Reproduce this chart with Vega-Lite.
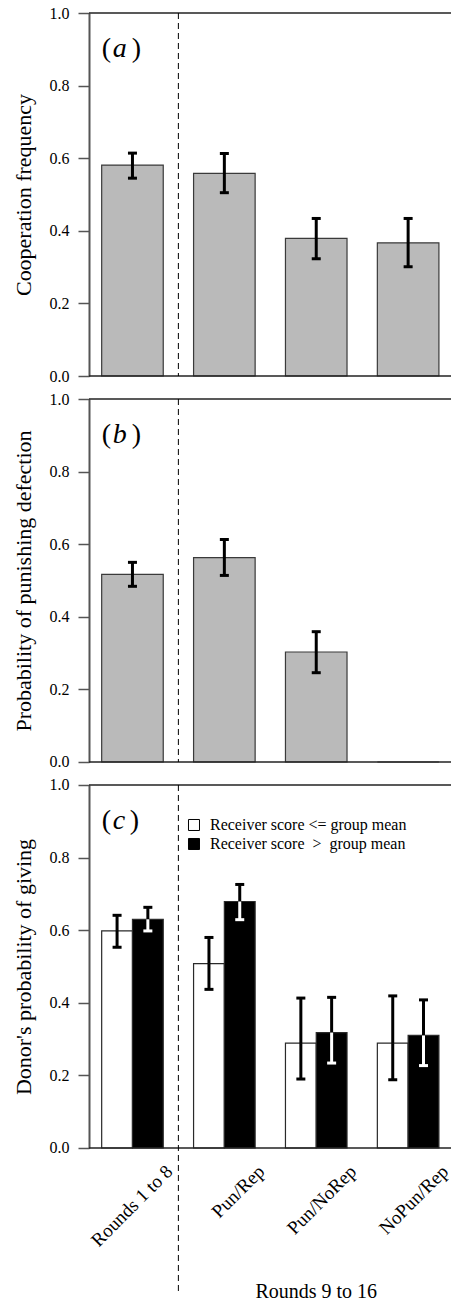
{
  "$schema": "https://vega.github.io/schema/vega-lite/v6.json",
  "padding": {"left": 13, "top": 5, "right": 0, "bottom": 0},
  "background": "white",
  "spacing": 23,
  "bounds": "flush",
  "config": {
    "font": "Liberation Serif",
    "view": {"stroke": null},
    "axis": {"labelFont": "Liberation Serif", "titleFont": "Liberation Serif", "labelColor": "black", "titleColor": "black", "grid": false},
    "axisY": {"labelFontSize": 16, "titleFontSize": 22, "titleFontWeight": "normal", "ticks": true, "tickSize": 11, "tickColor": "#555", "tickWidth": 1.5, "domainColor": "#555", "domainWidth": 2, "labelPadding": 9, "titlePadding": 13, "labelOverlap": false, "labelBound": false},
    "legend": {"labelFont": "Liberation Serif"}
  },
  "datasets": {
    "a": [
      {"cat": "Rounds 1 to 8", "value": 0.581, "lo": 0.545, "hi": 0.614},
      {"cat": "Pun/Rep", "value": 0.558, "lo": 0.505, "hi": 0.613},
      {"cat": "Pun/NoRep", "value": 0.379, "lo": 0.323, "hi": 0.434},
      {"cat": "NoPun/Rep", "value": 0.367, "lo": 0.301, "hi": 0.434}
    ],
    "b": [
      {"cat": "Rounds 1 to 8", "value": 0.517, "lo": 0.484, "hi": 0.55},
      {"cat": "Pun/Rep", "value": 0.563, "lo": 0.514, "hi": 0.613},
      {"cat": "Pun/NoRep", "value": 0.303, "lo": 0.246, "hi": 0.359},
      {"cat": "NoPun/Rep", "value": 0.0, "lo": null, "hi": null}
    ],
    "c": [
      {"cat": "Rounds 1 to 8", "grp": "Receiver score <= group mean", "value": 0.598, "lo": 0.553, "hi": 0.641},
      {"cat": "Rounds 1 to 8", "grp": "Receiver score\u00a0 >\u00a0 group mean", "value": 0.63, "lo": 0.598, "hi": 0.663},
      {"cat": "Pun/Rep", "grp": "Receiver score <= group mean", "value": 0.508, "lo": 0.437, "hi": 0.58},
      {"cat": "Pun/Rep", "grp": "Receiver score\u00a0 >\u00a0 group mean", "value": 0.679, "lo": 0.629, "hi": 0.726},
      {"cat": "Pun/NoRep", "grp": "Receiver score <= group mean", "value": 0.289, "lo": 0.19, "hi": 0.413},
      {"cat": "Pun/NoRep", "grp": "Receiver score\u00a0 >\u00a0 group mean", "value": 0.318, "lo": 0.234, "hi": 0.415},
      {"cat": "NoPun/Rep", "grp": "Receiver score <= group mean", "value": 0.289, "lo": 0.188, "hi": 0.419},
      {"cat": "NoPun/Rep", "grp": "Receiver score\u00a0 >\u00a0 group mean", "value": 0.31, "lo": 0.227, "hi": 0.408}
    ],
    "lines": [{"v": 0}, {"v": 1}],
    "lab": [{"cat": "Rounds 1 to 8", "y": 0.9}]
  },
  "vconcat": [
    {
      "width": 362.6, "height": 363,
      "layer": [
        {"data": {"name": "a"}, "mark": {"type": "bar", "fill": "#bababa", "stroke": "#3a3a3a", "strokeWidth": 1.2},
         "encoding": {
           "x": {"field": "cat", "type": "nominal", "sort": null, "scale": {"domain": ["Rounds 1 to 8", "Pun/Rep", "Pun/NoRep", "NoPun/Rep"], "paddingInner": 0.33, "paddingOuter": 0.138}, "axis": null},
           "y": {"field": "value", "type": "quantitative", "scale": {"domain": [0, 1], "nice": false}, "axis": {"title": "Cooperation frequency", "format": ".1f", "values": [0, 0.2, 0.4, 0.6, 0.8, 1]}}
         }},
        {"data": {"name": "lines"}, "mark": {"type": "rule", "color": "#222", "strokeWidth": 1.5}, "encoding": {"y": {"field": "v", "type": "quantitative"}}},
        {"data": {"name": "lab"}, "mark": {"type": "rule", "color": "black", "strokeWidth": 1, "strokeDash": [6, 4]},
         "encoding": {"x": {"field": "cat", "type": "nominal", "bandPosition": 1.246}, "y": {"datum": 1}, "y2": {"datum": 0}}},
        {"data": {"name": "a"}, "mark": {"type": "rule", "color": "black", "strokeWidth": 3},
         "encoding": {"x": {"field": "cat", "type": "nominal"}, "y": {"field": "lo", "type": "quantitative"}, "y2": {"field": "hi"}}},
        {"data": {"name": "a"}, "mark": {"type": "tick", "color": "black", "size": 9, "thickness": 3, "opacity": 1},
         "encoding": {"x": {"field": "cat", "type": "nominal"}, "y": {"field": "lo", "type": "quantitative"}}},
        {"data": {"name": "a"}, "mark": {"type": "tick", "color": "black", "size": 9, "thickness": 3, "opacity": 1},
         "encoding": {"x": {"field": "cat", "type": "nominal"}, "y": {"field": "hi", "type": "quantitative"}}},
        {"data": {"name": "lab"}, "mark": {"type": "text", "fontSize": 28, "align": "left", "baseline": "middle", "font": "Liberation Serif"},
         "encoding": {"x": {"field": "cat", "type": "nominal", "bandPosition": 0}, "y": {"field": "y", "type": "quantitative"}, "text": {"value": "("}}},
        {"data": {"name": "lab"}, "mark": {"type": "text", "fontSize": 28, "align": "left", "baseline": "middle", "fontStyle": "italic", "dx": 11, "font": "Liberation Serif"},
         "encoding": {"x": {"field": "cat", "type": "nominal", "bandPosition": 0}, "y": {"field": "y", "type": "quantitative"}, "text": {"value": "a"}}},
        {"data": {"name": "lab"}, "mark": {"type": "text", "fontSize": 28, "align": "left", "baseline": "middle", "dx": 30, "font": "Liberation Serif"},
         "encoding": {"x": {"field": "cat", "type": "nominal", "bandPosition": 0}, "y": {"field": "y", "type": "quantitative"}, "text": {"value": ")"}}}
      ]
    },
    {
      "width": 362.6, "height": 363,
      "layer": [
        {"data": {"name": "b"}, "mark": {"type": "bar", "fill": "#bababa", "stroke": "#3a3a3a", "strokeWidth": 1.2},
         "encoding": {
           "x": {"field": "cat", "type": "nominal", "sort": null, "scale": {"domain": ["Rounds 1 to 8", "Pun/Rep", "Pun/NoRep", "NoPun/Rep"], "paddingInner": 0.33, "paddingOuter": 0.138}, "axis": null},
           "y": {"field": "value", "type": "quantitative", "scale": {"domain": [0, 1], "nice": false}, "axis": {"title": "Probability of punishing defection", "format": ".1f", "values": [0, 0.2, 0.4, 0.6, 0.8, 1]}}
         }},
        {"data": {"name": "lines"}, "mark": {"type": "rule", "color": "#222", "strokeWidth": 1.5}, "encoding": {"y": {"field": "v", "type": "quantitative"}}},
        {"data": {"name": "lab"}, "mark": {"type": "rule", "color": "black", "strokeWidth": 1, "strokeDash": [6, 4]},
         "encoding": {"x": {"field": "cat", "type": "nominal", "bandPosition": 1.246}, "y": {"datum": 1}, "y2": {"datum": 0}}},
        {"data": {"name": "b"}, "mark": {"type": "rule", "color": "black", "strokeWidth": 3},
         "encoding": {"x": {"field": "cat", "type": "nominal"}, "y": {"field": "lo", "type": "quantitative"}, "y2": {"field": "hi"}}},
        {"data": {"name": "b"}, "mark": {"type": "tick", "color": "black", "size": 9, "thickness": 3, "opacity": 1},
         "encoding": {"x": {"field": "cat", "type": "nominal"}, "y": {"field": "lo", "type": "quantitative"}}},
        {"data": {"name": "b"}, "mark": {"type": "tick", "color": "black", "size": 9, "thickness": 3, "opacity": 1},
         "encoding": {"x": {"field": "cat", "type": "nominal"}, "y": {"field": "hi", "type": "quantitative"}}},
        {"data": {"name": "lab"}, "mark": {"type": "text", "fontSize": 28, "align": "left", "baseline": "middle", "font": "Liberation Serif"},
         "encoding": {"x": {"field": "cat", "type": "nominal", "bandPosition": 0}, "y": {"field": "y", "type": "quantitative"}, "text": {"value": "("}}},
        {"data": {"name": "lab"}, "mark": {"type": "text", "fontSize": 28, "align": "left", "baseline": "middle", "fontStyle": "italic", "dx": 11, "font": "Liberation Serif"},
         "encoding": {"x": {"field": "cat", "type": "nominal", "bandPosition": 0}, "y": {"field": "y", "type": "quantitative"}, "text": {"value": "b"}}},
        {"data": {"name": "lab"}, "mark": {"type": "text", "fontSize": 28, "align": "left", "baseline": "middle", "dx": 30, "font": "Liberation Serif"},
         "encoding": {"x": {"field": "cat", "type": "nominal", "bandPosition": 0}, "y": {"field": "y", "type": "quantitative"}, "text": {"value": ")"}}}
      ]
    },
    {
      "width": 362.6, "height": 363,
      "layer": [
        {"data": {"name": "c"}, "mark": {"type": "bar", "stroke": "#2a2a2a", "strokeWidth": 1.2},
         "encoding": {
           "x": {"field": "cat", "type": "nominal", "sort": null, "scale": {"domain": ["Rounds 1 to 8", "Pun/Rep", "Pun/NoRep", "NoPun/Rep"], "paddingInner": 0.33, "paddingOuter": 0.138},
                 "axis": {"title": null, "labelAngle": -45, "labelFontSize": 19, "labelAlign": "right", "labelBaseline": "middle", "labelOffset": 37, "labelPadding": 20, "domain": false, "ticks": false}},
           "xOffset": {"field": "grp", "type": "nominal", "sort": null, "scale": {"domain": ["Receiver score <= group mean", "Receiver score\u00a0 >\u00a0 group mean"]}},
           "y": {"field": "value", "type": "quantitative", "scale": {"domain": [0, 1], "nice": false}, "axis": {"title": "Donor's probability of giving", "format": ".1f", "values": [0, 0.2, 0.4, 0.6, 0.8, 1]}},
           "fill": {"field": "grp", "type": "nominal", "sort": null, "scale": {"domain": ["Receiver score <= group mean", "Receiver score\u00a0 >\u00a0 group mean"], "range": ["white", "black"]},
                    "legend": {"title": null, "orient": "none", "legendX": 97, "legendY": 804, "symbolType": "square", "symbolSize": 121, "symbolStrokeColor": "black", "symbolStrokeWidth": 1, "labelFontSize": 16, "labelFont": "Liberation Serif", "labelColor": "black", "labelOffset": 8, "rowPadding": 3, "padding": 0, "labelLimit": 400}}
         }},
        {"data": {"name": "lines"}, "mark": {"type": "rule", "color": "#222", "strokeWidth": 1.5}, "encoding": {"y": {"field": "v", "type": "quantitative"}}},
        {"data": {"name": "lab"}, "mark": {"type": "rule", "color": "black", "strokeWidth": 1, "strokeDash": [6, 4]},
         "encoding": {"x": {"field": "cat", "type": "nominal", "bandPosition": 1.246}, "y": {"datum": 1}, "y2": {"datum": -0.4}}},
        {"data": {"name": "c"}, "mark": {"type": "rule", "color": "black", "strokeWidth": 3},
         "encoding": {"x": {"field": "cat", "type": "nominal"}, "xOffset": {"field": "grp", "type": "nominal", "sort": null}, "y": {"field": "value", "type": "quantitative"}, "y2": {"field": "hi"}}},
        {"data": {"name": "c"}, "mark": {"type": "rule", "strokeWidth": 3},
         "encoding": {"x": {"field": "cat", "type": "nominal"}, "xOffset": {"field": "grp", "type": "nominal", "sort": null}, "y": {"field": "lo", "type": "quantitative"}, "y2": {"field": "value"},
                      "color": {"condition": {"test": "indexof(datum.grp, '>') >= 0", "value": "white"}, "value": "black"}}},
        {"data": {"name": "c"}, "mark": {"type": "tick", "size": 9, "thickness": 3, "opacity": 1},
         "encoding": {"x": {"field": "cat", "type": "nominal"}, "xOffset": {"field": "grp", "type": "nominal", "sort": null}, "y": {"field": "lo", "type": "quantitative"},
                      "color": {"condition": {"test": "indexof(datum.grp, '>') >= 0", "value": "white"}, "value": "black"}}},
        {"data": {"name": "c"}, "mark": {"type": "tick", "color": "black", "size": 9, "thickness": 3, "opacity": 1},
         "encoding": {"x": {"field": "cat", "type": "nominal"}, "xOffset": {"field": "grp", "type": "nominal", "sort": null}, "y": {"field": "hi", "type": "quantitative"}}},
        {"data": {"name": "lab"}, "mark": {"type": "text", "fontSize": 28, "align": "left", "baseline": "middle", "font": "Liberation Serif"},
         "encoding": {"x": {"field": "cat", "type": "nominal", "bandPosition": 0}, "y": {"field": "y", "type": "quantitative"}, "text": {"value": "("}}},
        {"data": {"name": "lab"}, "mark": {"type": "text", "fontSize": 28, "align": "left", "baseline": "middle", "fontStyle": "italic", "dx": 11, "font": "Liberation Serif"},
         "encoding": {"x": {"field": "cat", "type": "nominal", "bandPosition": 0}, "y": {"field": "y", "type": "quantitative"}, "text": {"value": "c"}}},
        {"data": {"name": "lab"}, "mark": {"type": "text", "fontSize": 28, "align": "left", "baseline": "middle", "dx": 28, "font": "Liberation Serif"},
         "encoding": {"x": {"field": "cat", "type": "nominal", "bandPosition": 0}, "y": {"field": "y", "type": "quantitative"}, "text": {"value": ")"}}},
        {"data": {"values": [{"cat": "Pun/NoRep", "y": -0.397}]}, "mark": {"type": "text", "fontSize": 20, "align": "center", "baseline": "middle", "font": "Liberation Serif"},
         "encoding": {"x": {"field": "cat", "type": "nominal"}, "y": {"field": "y", "type": "quantitative"}, "text": {"value": "Rounds 9 to 16"}}}
      ]
    }
  ]
}
